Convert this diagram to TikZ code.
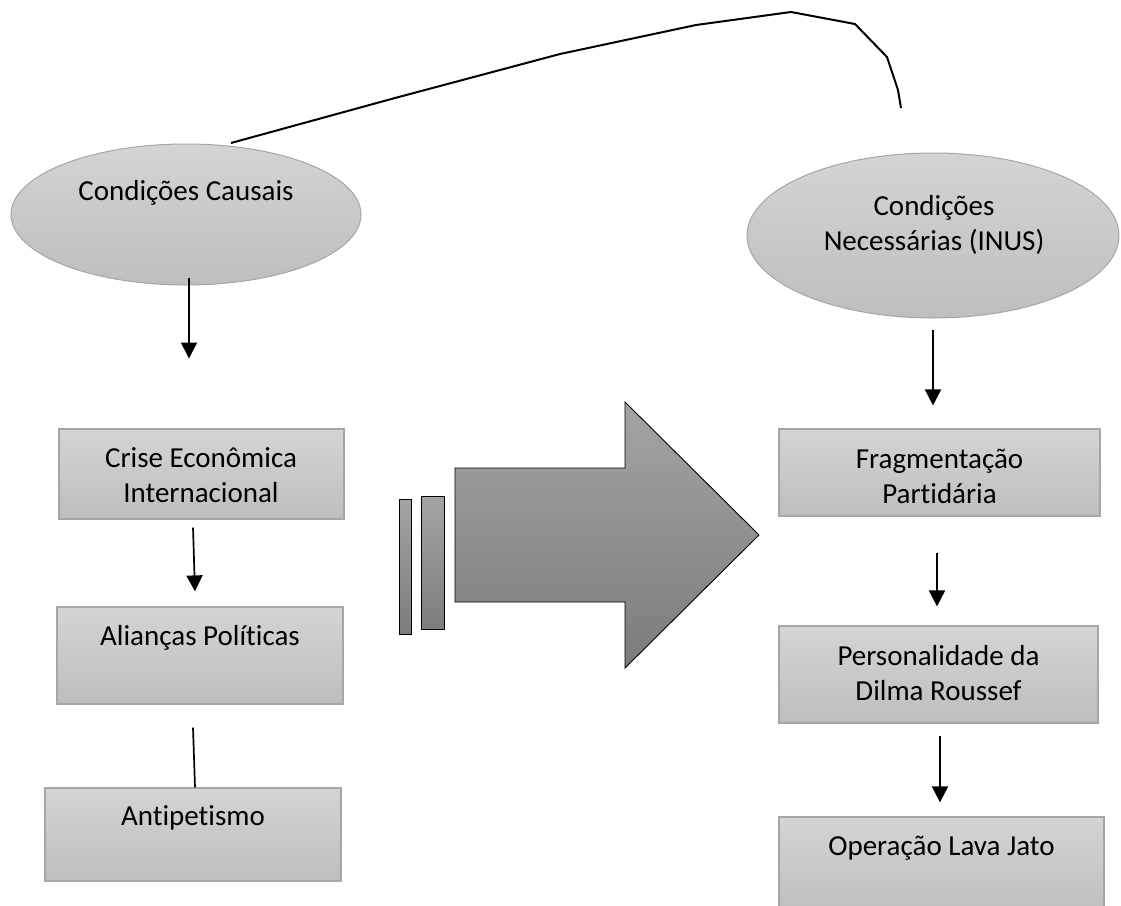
\documentclass[tikz,border=0pt]{standalone}
\usepackage{fontspec}
\setmainfont[Ligatures={NoCommon}]{Carlito}
\usetikzlibrary{arrows.meta,calc,shapes.geometric}
\definecolor{boxtop}{HTML}{D4D4D4}
\definecolor{boxbot}{HTML}{BEBEBE}
\definecolor{boxline}{HTML}{A6A6A6}
\definecolor{arrtop}{HTML}{A4A4A4}
\definecolor{arrbot}{HTML}{7C7C7C}
\tikzset{
  cond/.style={ellipse, draw=boxline, line width=1pt, top color=boxtop, bottom color=boxbot, inner sep=0pt},
  box/.style={rectangle, draw=boxline, line width=1.2pt, top color=boxtop, bottom color=boxbot, inner sep=0pt},
  txt/.style={font=\fontsize{29}{35}\selectfont, align=center, inner sep=0pt, text=black},
  conn/.style={line width=1.7pt, -{Triangle[length=16pt,width=16pt]}},
  plain/.style={line width=1.7pt},
  curveline/.style={line width=2pt, line join=round},
  bigarrow/.style={draw=black, line width=0.9pt, top color=arrtop, bottom color=arrbot, line join=miter},
}
\begin{document}
\begin{tikzpicture}[x=1pt,y=-1pt]
\useasboundingbox (0,0) rectangle (1121,905);
\clip (0,0) rectangle (1121,905);

% ellipses
\node[cond, minimum width=350pt, minimum height=141pt] (causais) at (186,214.5) {};
\node[txt] (tcausais) at (186,193) {Condições Causais};
\node[cond, minimum width=372pt, minimum height=165pt] (necess) at (933,235.5) {};
\node[txt] (tnecess) at (934,224.5) {Condições\\Necessárias (INUS)};

% left boxes
\node[box, minimum width=285pt, minimum height=90pt] (crise) at (201.5,474) {};
\node[txt] (tcrise) at (201,475.5) {Crise Econômica\\Internacional};
\node[box, minimum width=286pt, minimum height=97pt] (alianca) at (200,655.5) {};
\node[txt] (talianca) at (200,638) {Alianças Políticas};
\node[box, minimum width=296pt, minimum height=93pt] (antip) at (193,834.5) {};
\node[txt] (tantip) at (193,818) {Antipetismo};

% right boxes
\node[box, minimum width=321pt, minimum height=87pt] (frag) at (939.5,472.5) {};
\node[txt] (tfrag) at (939.5,476) {Fragmentação\\Partidária};
\node[box, minimum width=319pt, minimum height=97pt] (pers) at (938.5,674.5) {};
\node[txt] (tpers) at (938.5,673.5) {Personalidade da\\Dilma Roussef};
\node[box, minimum width=325pt, minimum height=98pt] (oper) at (941.5,866) {};
\node[txt] (toper) at (941.5,848) {Operação Lava Jato};

% big arrow and bars
\path[bigarrow] (455,468) -- (625,468) -- (625,402) -- (759,535) -- (625,668) -- (625,602) -- (455,602) -- cycle;
\path[bigarrow, line width=0.8pt] (399,499) rectangle (411,634);
\path[bigarrow, line width=0.8pt] (421,496) rectangle (444,629);

% connectors
\draw[conn] ($(causais.south)+(3,-8)$) -- ($(causais.south)+(3,73)$);
\draw[conn] ($(crise.south)+(-8.5,8)$) -- ($(alianca.north)+(-5,-15)$);
\draw[plain] ($(alianca.south)+(-7,23)$) -- ($(antip.north)+(2,0)$);
\draw[conn] ($(necess.south)+(0,11)$) -- ($(frag.north)+(-6.5,-23)$);
\draw[conn] ($(frag.south)+(-2.5,36)$) -- ($(pers.north)+(-1.5,-19)$);
\draw[conn] ($(pers.south)+(1.5,12)$) -- ($(oper.north)+(-1.5,-14)$);

% top curve
\coordinate (cA) at (231,143);
\coordinate (cB) at (901,108);
\draw[curveline] (cA) -- (395,98) -- (560,54) -- (696,25) -- (791,12) -- (855,24) -- (887,57) -- (898,90) -- (cB);
\end{tikzpicture}
\end{document}
